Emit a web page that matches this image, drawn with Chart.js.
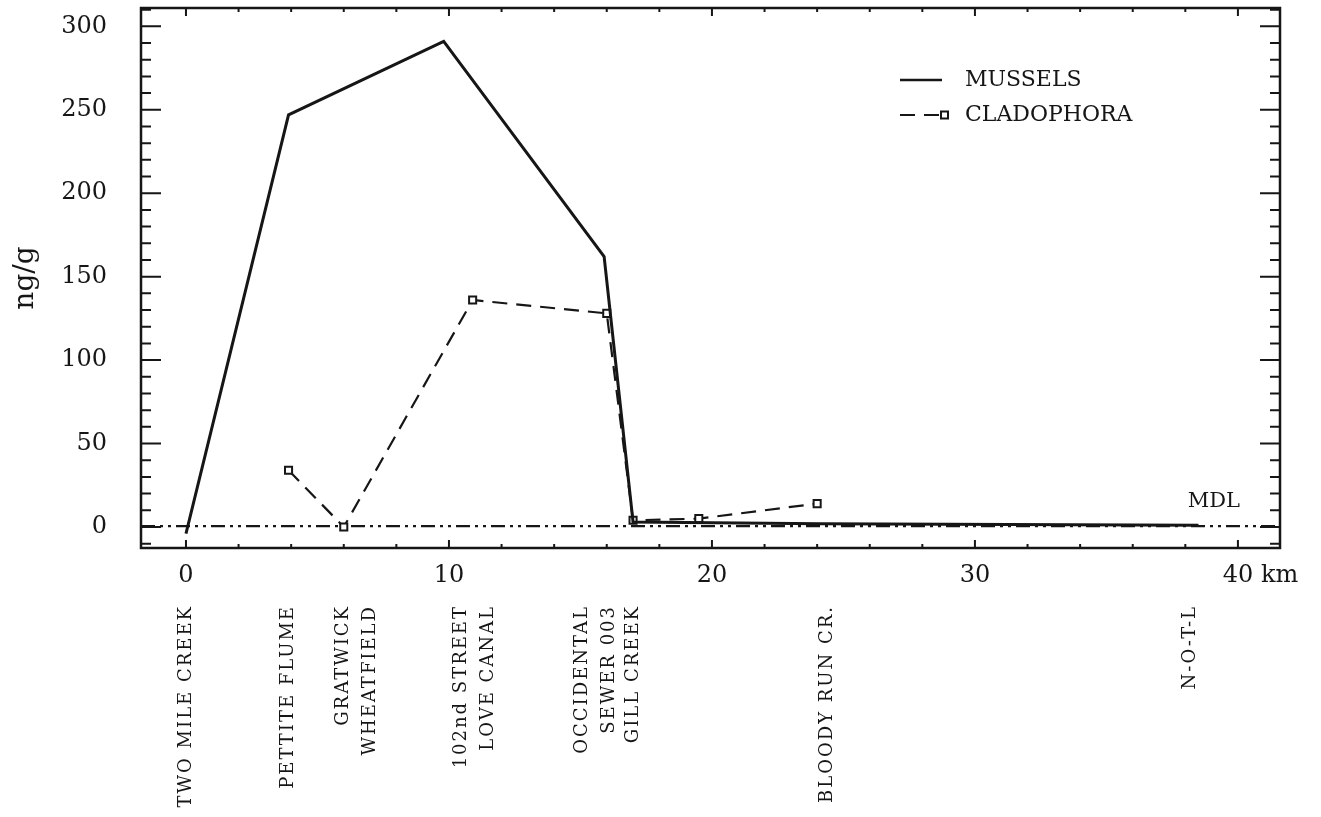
<!DOCTYPE html>
<html>
<head>
<meta charset="utf-8">
<script src="https://cdn.jsdelivr.net/npm/chart.js@4.4.0/dist/chart.umd.min.js"></script>
<style>
  html, body { margin: 0; padding: 0; background: #fff; }
  #wrap { width: 1321px; height: 817px; }
</style>
</head>
<body>
<div id="wrap"><canvas id="chart"></canvas></div>
<script>
// distance downstream (km) and concentration (ng/g)
const musselKm = [0, 3.9, 9.8, 15.9, 17.0, 24.1, 38.5];
const musselValues = [-4, 247, 291, 162, 3, 2, 1];
const cladoKm = [3.9, 6.0, 10.9, 16.0, 17.0, 19.5, 24.0];
const cladoValues = [34, 0, 136, 128, 4, 5, 14];
const mdlValue = 0.5;

const xTicks = [0, 10, 20, 30, 40];
const yTicks = [0, 50, 100, 150, 200, 250, 300];

const siteKm = [0, 3.9, 6.5, 11.0, 15.6, 17.0, 24.4, 38.2];
const siteNames = [
  ['TWO MILE CREEK'],
  ['PETTITE FLUME'],
  ['GRATWICK', 'WHEATFIELD'],
  ['102nd STREET', 'LOVE CANAL'],
  ['OCCIDENTAL', 'SEWER 003'],
  ['GILL CREEK'],
  ['BLOODY RUN CR.'],
  ['N-O-T-L']
];

const ink = '#161616';
const serif = "'DejaVu Serif', 'Liberation Serif', serif";

function toPoints(xs, ys) {
  return xs.map((x, i) => ({ x: x, y: ys[i] }));
}

// frame with inward ticks, MDL line, legend and site names
const decorations = {
  id: 'decorations',
  beforeDatasetsDraw(chart) {
    const ctx = chart.ctx;
    const a = chart.chartArea;
    const y = chart.scales.y.getPixelForValue(mdlValue);
    ctx.save();
    ctx.strokeStyle = ink;
    ctx.lineWidth = 2.2;
    ctx.setLineDash([14, 5, 3, 5, 3, 5]);
    ctx.beginPath();
    ctx.moveTo(a.left, y);
    ctx.lineTo(a.right, y);
    ctx.stroke();
    ctx.restore();
  },
  afterDraw(chart) {
    const ctx = chart.ctx;
    const a = chart.chartArea;
    const xs = chart.scales.x;
    const ys = chart.scales.y;
    ctx.save();
    ctx.strokeStyle = ink;
    ctx.fillStyle = ink;

    // frame
    ctx.lineWidth = 2.5;
    ctx.strokeRect(a.left, a.top, a.right - a.left, a.bottom - a.top);

    // y ticks, both sides
    ctx.lineWidth = 2;
    ctx.beginPath();
    for (let v = Math.ceil(ys.min / 10) * 10; v <= ys.max; v += 10) {
      const p = ys.getPixelForValue(v);
      const len = v % 50 === 0 ? 20 : 10;
      ctx.moveTo(a.left, p); ctx.lineTo(a.left + len, p);
      ctx.moveTo(a.right, p); ctx.lineTo(a.right - len, p);
    }
    // x ticks, top and bottom
    for (let v = Math.ceil(xs.min / 2) * 2; v <= xs.max; v += 2) {
      const p = xs.getPixelForValue(v);
      const len = v % 10 === 0 ? 8 : 4;
      ctx.moveTo(p, a.bottom); ctx.lineTo(p, a.bottom - len);
      ctx.moveTo(p, a.top); ctx.lineTo(p, a.top + len);
    }
    ctx.stroke();

    // unit after the last x label
    ctx.font = '24px ' + serif;
    ctx.textAlign = 'left';
    ctx.textBaseline = 'middle';
    ctx.fillText('km', xs.getPixelForValue(40) + 23, a.bottom + 28);

    // MDL label
    ctx.font = '21px ' + serif;
    ctx.textAlign = 'right';
    ctx.fillText('MDL', a.right - 40, ys.getPixelForValue(mdlValue) - 25);

    // legend
    const lx = 900, tx = 965;
    chart.data.datasets.forEach((ds, i) => {
      const ly = 80 + i * 35;
      ctx.lineWidth = Math.min(ds.borderWidth, 2.5);
      ctx.setLineDash(ds.borderDash || []);
      ctx.beginPath();
      ctx.moveTo(lx, ly);
      ctx.lineTo(lx + 42, ly);
      ctx.stroke();
      ctx.setLineDash([]);
      if (ds.pointRadius > 0) {
        ctx.fillStyle = '#fff';
        ctx.lineWidth = 2;
        ctx.fillRect(lx + 41, ly - 3.5, 7, 7);
        ctx.strokeRect(lx + 41, ly - 3.5, 7, 7);
        ctx.fillStyle = ink;
      }
      ctx.font = '22px ' + serif;
      ctx.textAlign = 'left';
      ctx.fillText(ds.label, tx, ly);
    });

    // site names, rotated
    ctx.font = '18px ' + serif;
    ctx.letterSpacing = '2px';
    ctx.textAlign = 'right';
    ctx.textBaseline = 'middle';
    siteNames.forEach((lines, i) => {
      const cx = xs.getPixelForValue(siteKm[i]);
      lines.forEach((t, j) => {
        const x = cx + (j - (lines.length - 1) / 2) * 27;
        ctx.save();
        ctx.translate(x, 605);
        ctx.rotate(-Math.PI / 2);
        ctx.fillText(t, 0, 0);
        ctx.restore();
      });
    });
    ctx.restore();
  }
};

new Chart(document.getElementById('chart'), {
  type: 'line',
  data: {
    datasets: [{
      label: 'MUSSELS',
      data: toPoints(musselKm, musselValues),
      borderColor: ink,
      borderWidth: 3,
      pointRadius: 0,
      tension: 0
    }, {
      label: 'CLADOPHORA',
      data: toPoints(cladoKm, cladoValues),
      borderColor: ink,
      borderWidth: 2.2,
      borderDash: [15, 9],
      pointStyle: 'rect',
      pointRadius: 5,
      pointBorderWidth: 2,
      pointBackgroundColor: '#fff',
      pointBorderColor: ink,
      tension: 0
    }]
  },
  options: {
    responsive: true,
    maintainAspectRatio: false,
    animation: false,
    layout: { padding: { top: 8, right: 41, bottom: 229, left: 0 } },
    plugins: {
      legend: { display: false },
      tooltip: { enabled: false }
    },
    scales: {
      x: {
        type: 'linear',
        min: -1.71,
        max: 41.6,
        grid: { display: false, drawTicks: false },
        border: { display: false },
        afterBuildTicks: (s) => { s.ticks = xTicks.map(v => ({ value: v })); },
        afterFit: (s) => { s.height = 40; },
        ticks: {
          padding: 13,
          maxRotation: 0,
          color: ink,
          font: { family: serif, size: 24 }
        }
      },
      y: {
        min: -12.6,
        max: 311,
        grid: { display: false, drawTicks: true, tickLength: 34 },
        border: { display: false },
        afterBuildTicks: (s) => { s.ticks = yTicks.map(v => ({ value: v })); },
        afterFit: (s) => { s.width = 141; },
        ticks: {
          padding: 0,
          color: ink,
          font: { family: serif, size: 24, lineHeight: 0.6 }
        },
        title: {
          display: true,
          text: 'ng/g',
          color: ink,
          padding: { top: 9, bottom: 0 },
          font: { family: serif, size: 28 }
        }
      }
    }
  },
  plugins: [decorations]
});
</script>
</body>
</html>
